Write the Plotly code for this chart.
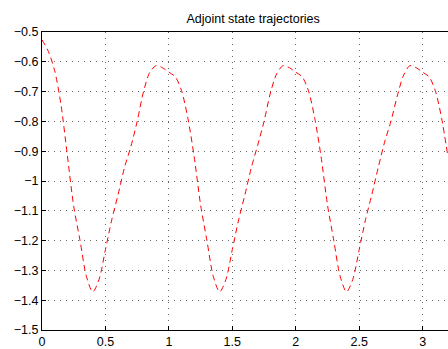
import plotly.graph_objects as go

x_vals = [0.00, 0.05, 0.10, 0.15, 0.20, 0.25, 0.30, 0.35, 0.40, 0.45,
          0.50, 0.55, 0.60, 0.65, 0.70, 0.75, 0.80, 0.85, 0.90, 0.95,
          1.00, 1.05, 1.10, 1.15, 1.20, 1.25, 1.30, 1.35, 1.40, 1.45,
          1.50, 1.55, 1.60, 1.65, 1.70, 1.75, 1.80, 1.85, 1.90, 1.95,
          2.00, 2.05, 2.10, 2.15, 2.20, 2.25, 2.30, 2.35, 2.40, 2.45,
          2.50, 2.55, 2.60, 2.65, 2.70, 2.75, 2.80, 2.85, 2.90, 2.95,
          3.00, 3.05, 3.10, 3.15, 3.20]
adjoint = [-0.526, -0.565, -0.630, -0.745, -0.915, -1.085, -1.200, -1.320, -1.372, -1.330,
           -1.230, -1.130, -1.045, -0.955, -0.885, -0.800, -0.700, -0.635, -0.613, -0.620,
           -0.635, -0.650, -0.697, -0.790, -0.920, -1.080, -1.200, -1.320, -1.372, -1.330,
           -1.230, -1.130, -1.045, -0.955, -0.880, -0.800, -0.705, -0.640, -0.613, -0.620,
           -0.635, -0.650, -0.697, -0.790, -0.920, -1.080, -1.200, -1.320, -1.372, -1.330,
           -1.230, -1.130, -1.045, -0.955, -0.870, -0.800, -0.715, -0.645, -0.613, -0.620,
           -0.635, -0.650, -0.697, -0.790, -0.920]

x_ticks = [0, 0.5, 1, 1.5, 2, 2.5, 3]
x_ticktext = ["0", "0.5", "1", "1.5", "2", "2.5", "3"]
y_ticks = [-1.5, -1.4, -1.3, -1.2, -1.1, -1.0, -0.9, -0.8, -0.7, -0.6, -0.5]
y_ticktext = ["\u22121.5", "\u22121.4", "\u22121.3", "\u22121.2", "\u22121.1", "\u22121",
              "\u22120.9", "\u22120.8", "\u22120.7", "\u22120.6", "\u22120.5"]

fig = go.Figure()
fig.add_trace(go.Scatter(
    x=x_vals, y=adjoint, mode="lines",
    line=dict(color="#ff0000", width=1, dash="6px,4px", shape="spline", smoothing=0.8),
    showlegend=False, hoverinfo="skip"))

font = dict(family="Liberation Sans, Arial, sans-serif", size=12.5, color="#000000")

fig.update_layout(
    width=448, height=349,
    margin=dict(l=42, r=0, t=32, b=14),
    paper_bgcolor="white", plot_bgcolor="white",
    font=font,
    title=dict(text="Adjoint state trajectories", x=0.52, xref="paper", xanchor="center",
               y=1 - 19 / 349, yanchor="middle", font=dict(size=12.5)),
    xaxis=dict(range=[0, 3.2], tickvals=x_ticks, ticktext=x_ticktext,
               showline=True, linecolor="black", linewidth=1, mirror=True,
               ticks="inside", ticklen=4, tickcolor="black",
               showgrid=True, gridcolor="#666666", griddash="1px,5px", gridwidth=1,
               zeroline=False),
    yaxis=dict(range=[-1.5, -0.5], tickvals=y_ticks, ticktext=y_ticktext,
               showline=True, linecolor="black", linewidth=1, mirror=False,
               ticks="inside", ticklen=4, tickcolor="black",
               showgrid=True, gridcolor="#666666", griddash="1px,5px", gridwidth=1,
               zeroline=False),
)

fig.write_html("out.html")
